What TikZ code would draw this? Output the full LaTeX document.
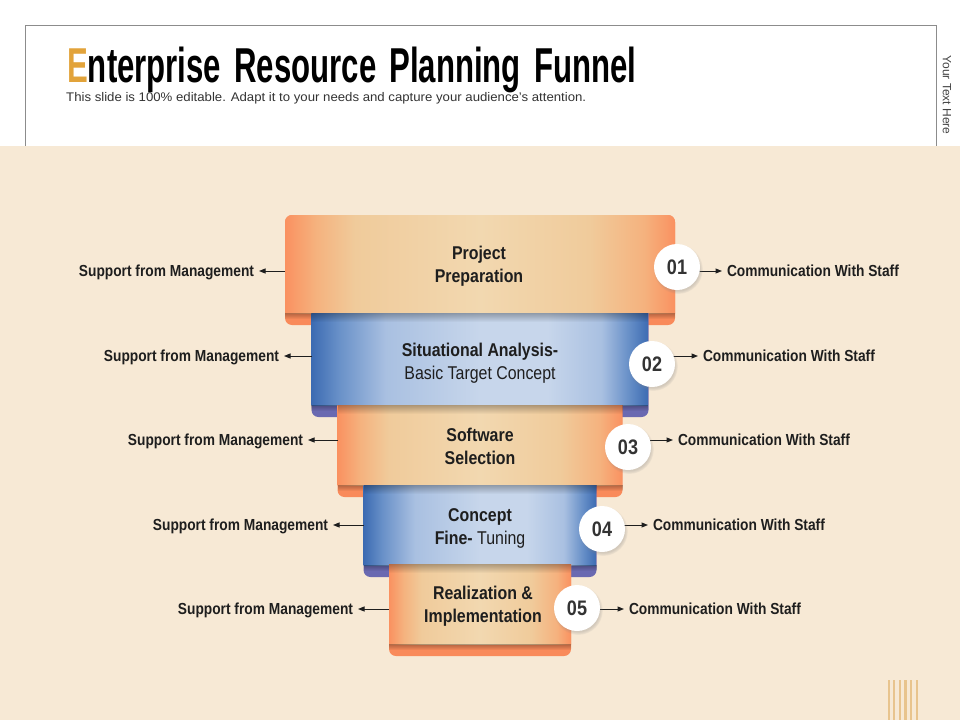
\documentclass[tikz,border=0pt]{standalone}
\usepackage{graphicx}
\usepackage{fontspec}
\setmainfont{Liberation Sans}
\newfontfamily\nf[FakeStretch=0.86]{Liberation Sans}
\usetikzlibrary{arrows.meta,shadows,fadings}
\definecolor{bg}{HTML}{F7E9D5}
\definecolor{boxgray}{HTML}{8C8C8C}
\definecolor{titleE}{HTML}{E2A33A}
\definecolor{subtxt}{HTML}{333333}
\definecolor{sidetxt}{HTML}{444444}
\definecolor{txt}{HTML}{1E1E1E}
\definecolor{numtxt}{HTML}{333333}
\definecolor{stripe}{HTML}{E8C48E}
\definecolor{or0}{HTML}{FA9160}
\definecolor{or1}{HTML}{F5B27E}
\definecolor{or2}{HTML}{F0CB9B}
\definecolor{or3}{HTML}{F2D8B0}
\definecolor{orstrip}{HTML}{F98A5A}
\definecolor{bl0}{HTML}{3C6BB2}
\definecolor{bl1}{HTML}{6890C8}
\definecolor{bl2}{HTML}{A9C0E1}
\definecolor{bl3}{HTML}{C7D6EB}
\definecolor{blstrip}{HTML}{6A69B1}
\pgfdeclarehorizontalshading{orangeband}{100bp}{color(0bp)=(or0); color(25bp)=(or0); color(29bp)=(or1); color(34bp)=(or2); color(50bp)=(or3); color(64bp)=(or2); color(71bp)=(or1); color(75bp)=(or0); color(100bp)=(or0)}
\pgfdeclarehorizontalshading{blueband}{100bp}{color(0bp)=(bl0); color(25bp)=(bl0); color(29bp)=(bl1); color(36bp)=(bl2); color(50bp)=(bl3); color(60bp)=(bl3); color(68bp)=(bl2); color(72bp)=(bl1); color(75bp)=(bl0); color(100bp)=(bl0)}
\tikzfading[name=topshade, top color=transparent!72, bottom color=transparent!100]
\newcommand\drawband[4]{%
  \begin{scope}
    \clip (#1.north west) rectangle (#1.south east);
    \fill[#3, rounded corners=7pt] ([yshift=#4]#1.north west) rectangle (#1.south east);
  \end{scope}
  \begin{scope}
    \clip (#1.north west) rectangle ([yshift=12pt]#1.south east);
    \shade[shading=#2, rounded corners=7pt] ([yshift=#4]#1.north west) rectangle (#1.south east);
  \end{scope}
  \fill[black, path fading=topshade] ([yshift=12pt]#1.south west) rectangle ([yshift=6pt]#1.south east);
}
\newcommand\tsp{\hspace{0.42em}}
\begin{document}
\begin{tikzpicture}[x=1pt,y=-1pt,
  bandbox/.style={inner sep=0pt, outer sep=0pt, draw=none},
  bandtxt/.style={align=center, inner sep=0pt, text=txt, font=\nf\fontsize{18.5}{23}\selectfont},
  lab/.style={inner sep=0pt, outer ysep=0pt, outer xsep=5pt, text=txt, text height=11.5pt, text depth=0pt, font=\nf\bfseries\fontsize{16}{16}\selectfont},
  arr/.style={line width=1pt, txt, -{Triangle[length=6.5pt,width=5pt]}},
  numc/.style={circle, fill=white, minimum size=46pt, inner sep=0pt, text=numtxt, font=\nf\bfseries\fontsize{21}{21}\selectfont,
    circular drop shadow={shadow xshift=1pt, shadow yshift=-2pt, opacity=0.3, shadow scale=1.08}},
  shade1/.style={black, path fading=topshade}
]
\useasboundingbox (0,0) rectangle (960,720);
\fill[white] (0,0) rectangle (960,720);
\draw[boxgray, line width=1pt] (25,25) rectangle (936,170);
\fill[bg] (0,146) rectangle (960,720);
% title
\node[anchor=base west, inner sep=0pt] (title) at (67,82)
  {\resizebox{569pt}{\height}{\fontsize{49}{49}\selectfont\bfseries\textcolor{titleE}{E}nterprise\tsp Resource\tsp Planning\tsp Funnel}};
\node[anchor=base west, inner sep=0pt, text=subtxt] (subtitle) at (66,101)
  {\resizebox{520pt}{\height}{\fontsize{12.5}{13}\selectfont This slide is 100\% editable. Adapt it to your needs and capture your audience's attention.}};
\node[rotate=-90, inner sep=0pt, text=sidetxt, font=\fontsize{12}{12}\selectfont] (side) at (947,95) {Your Text Here};
% stripes
\foreach \i in {0,...,5} \fill[stripe] (887.5+5.6*\i,680) rectangle ++(2.2,40);
% bands
\node[bandbox, minimum width=390pt, minimum height=110pt] (b1) at (480,270) {};
\node[bandbox, minimum width=337pt, minimum height=104pt] (b2) at (480,365) {};
\node[bandbox, minimum width=285pt, minimum height=92pt] (b3) at (480,451) {};
\node[bandbox, minimum width=233pt, minimum height=92pt] (b4) at (480,531) {};
\node[bandbox, minimum width=182pt, minimum height=92pt] (b5) at (480,610) {};
\drawband{b1}{orangeband}{orstrip}{0pt}
\drawband{b2}{blueband}{blstrip}{10pt}
\fill[shade1] (b2.north west) rectangle ([yshift=-9pt]b2.north east);
\drawband{b3}{orangeband}{orstrip}{10pt}
\fill[shade1] (b3.north west) rectangle ([yshift=-9pt]b3.north east);
\drawband{b4}{blueband}{blstrip}{10pt}
\fill[shade1] (b4.north west) rectangle ([yshift=-9pt]b4.north east);
\drawband{b5}{orangeband}{orstrip}{10pt}
\fill[shade1] (b5.north west) rectangle ([yshift=-9pt]b5.north east);
% band texts
\node[bandtxt, font=\nf\bfseries\fontsize{18.5}{23}\selectfont] (t1) at (479,266.5) {Project\\Preparation};
\node[bandtxt] (t2) at (480,363.5) {\bfseries Situational Analysis-\\Basic Target Concept};
\node[bandtxt, font=\nf\bfseries\fontsize{18.5}{23}\selectfont] (t3) at (480,446.5) {Software\\Selection};
\node[bandtxt] (t4) at (480,528.5) {\bfseries Concept\\\textbf{Fine-} Tuning};
\node[bandtxt, font=\nf\bfseries\fontsize{18.5}{23}\selectfont] (t5) at (483,606.5) {Realization \&\\Implementation};
% left labels
\node[lab, anchor=east] (l1) at (259,271) {Support from Management};
\node[lab, anchor=east] (l2) at (284,356) {Support from Management};
\node[lab, anchor=east] (l3) at (308,440) {Support from Management};
\node[lab, anchor=east] (l4) at (333,525) {Support from Management};
\node[lab, anchor=east] (l5) at (358,609) {Support from Management};
\foreach \k in {1,...,5} \draw[arr] (b\k.west |- l\k.east) -- (l\k.east);
% right labels
\node[lab, anchor=west] (r1) at (722,271) {Communication With Staff};
\node[lab, anchor=west] (r2) at (698,356) {Communication With Staff};
\node[lab, anchor=west] (r3) at (673,440) {Communication With Staff};
\node[lab, anchor=west] (r4) at (648,525) {Communication With Staff};
\node[lab, anchor=west] (r5) at (624,609) {Communication With Staff};
\coordinate (k1) at (677,267);
\coordinate (k2) at (652,364);
\coordinate (k3) at (628,447);
\coordinate (k4) at (602,529);
\coordinate (k5) at (577,608);
\foreach \k in {1,...,5} \draw[arr] (k\k |- r\k.west) -- (r\k.west);
% number circles
\node[numc] (c1) at (k1) {01};
\node[numc] (c2) at (k2) {02};
\node[numc] (c3) at (k3) {03};
\node[numc] (c4) at (k4) {04};
\node[numc] (c5) at (k5) {05};
\end{tikzpicture}
\end{document}
